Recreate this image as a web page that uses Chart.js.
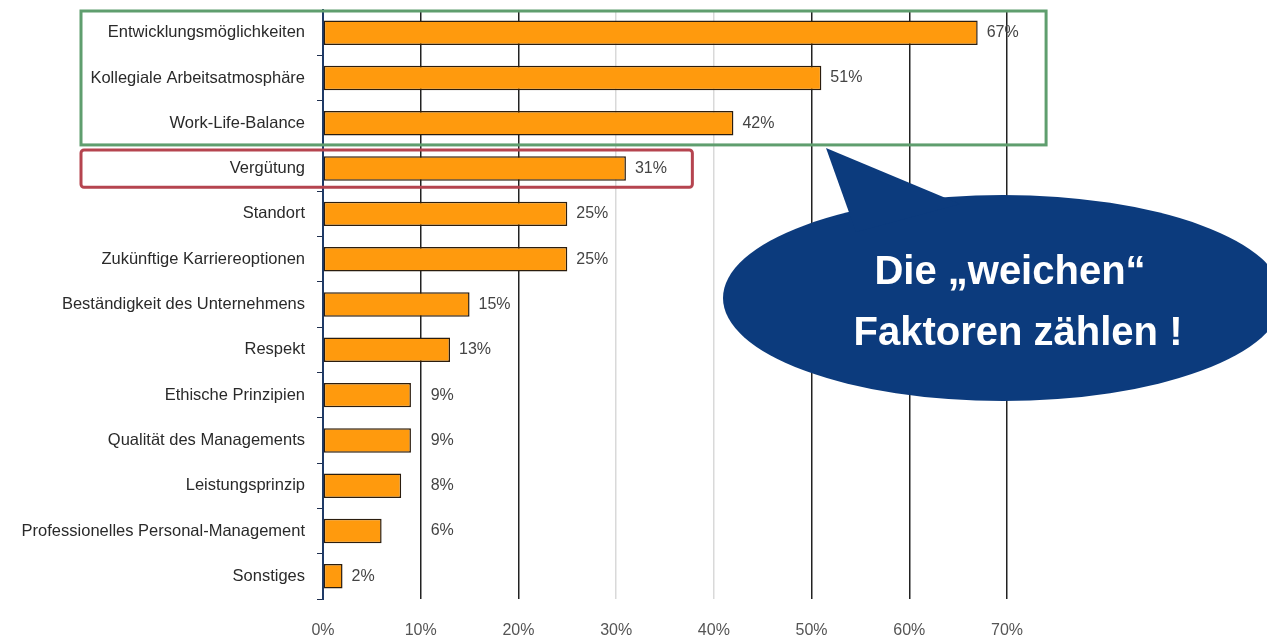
<!DOCTYPE html>
<html>
<head>
<meta charset="utf-8">
<script src="https://cdn.jsdelivr.net/npm/chart.js@4/dist/chart.umd.min.js"></script>
<style>
  html, body { margin: 0; padding: 0; background: #fff; }
  #wrap { width: 1267px; height: 639px; }
</style>
</head>
<body>
<div id="wrap"><canvas id="chart"></canvas></div>
<script>
/* ---------- data ---------- */
const categories = [
    "Entwicklungsmöglichkeiten",
    "Kollegiale Arbeitsatmosphäre",
    "Work-Life-Balance",
    "Vergütung",
    "Standort",
    "Zukünftige Karriereoptionen",
    "Beständigkeit des Unternehmens",
    "Respekt",
    "Ethische Prinzipien",
    "Qualität des Managements",
    "Leistungsprinzip",
    "Professionelles Personal-Management",
    "Sonstiges"
];
const shares = [67, 51, 42, 31, 25, 25, 15, 13, 9, 9, 8, 6, 2];
const xTicks = [0, 10, 20, 30, 40, 50, 60, 70];

const bubbleLines = ["Die \u201Eweichen\u201C", "Faktoren zählen !"];

/* ---------- plugins ---------- */
const valueLabels = {
    id: "valueLabels",
    afterDatasetsDraw(chart) {
        const { ctx, scales: { x } } = chart;
        const meta = chart.getDatasetMeta(0);
        ctx.save();
        ctx.font = "16px 'Liberation Sans', Arial, sans-serif";
        ctx.fillStyle = "#444";
        ctx.textBaseline = "middle";
        meta.data.forEach((bar, i) => {
            const v = shares[i];
            let px = bar.x + 9;
            // small values sit just right of the 10% line, like the original
            if (v >= 5 && v < 10) px = x.getPixelForValue(10) + 10;
            ctx.fillText(v + "%", px, bar.y);
        });
        ctx.restore();
    }
};

const highlightBoxes = {
    id: "highlightBoxes",
    afterDraw(chart) {
        const { ctx, scales: { x, y } } = chart;
        const half = (y.getPixelForValue(1) - y.getPixelForValue(0)) / 2;
        ctx.save();
        ctx.lineWidth = 3;

        // green frame: top three
        ctx.strokeStyle = "#5f9e6e";
        const gTop = y.getPixelForValue(0) - half + 1;
        const gBot = y.getPixelForValue(2) + half - 1;
        ctx.strokeRect(81, gTop, x.getPixelForValue(74) - 81, gBot - gTop);

        // red frame: Vergütung
        ctx.strokeStyle = "#b5444f";
        const rTop = y.getPixelForValue(3) - half + 4;
        const rBot = y.getPixelForValue(3) + half - 4;
        ctx.beginPath();
        ctx.roundRect(81, rTop, x.getPixelForValue(37.8) - 81, rBot - rTop, 3);
        ctx.stroke();

        // speech bubble
        ctx.fillStyle = "#0c3b7d";
        ctx.beginPath();
        ctx.ellipse(1003, 298, 280, 103, 0, 0, Math.PI * 2);
        ctx.fill();
        ctx.beginPath();
        ctx.moveTo(826, 148);
        ctx.lineTo(856, 232);
        ctx.lineTo(960, 204);
        ctx.closePath();
        ctx.fill();

        ctx.fillStyle = "#fff";
        ctx.font = "bold 40px 'Liberation Sans', Arial, sans-serif";
        ctx.textAlign = "center";
        ctx.textBaseline = "middle";
        ctx.fillText(bubbleLines[0], 1010, 273);
        ctx.fillText(bubbleLines[1], 1018, 334);
        ctx.restore();
    }
};

/* ---------- chart ---------- */
new Chart(document.getElementById("chart"), {
    type: "bar",
    data: {
        labels: categories,
        datasets: [{
            data: shares,
            backgroundColor: "#ff9a0d",
            borderColor: "#2b1d0e",
            borderWidth: 1.5,
            borderSkipped: false,
            barPercentage: 0.54,
            categoryPercentage: 1.0
        }]
    },
    options: {
        indexAxis: "y",
        responsive: true,
        maintainAspectRatio: false,
        animation: false,
        layout: { padding: { top: 10, right: 260, left: 0, bottom: 0 } },
        plugins: {
            legend: { display: false },
            tooltip: { enabled: false }
        },
        scales: {
            x: {
                min: 0,
                max: 70,
                afterBuildTicks: (s) => { s.ticks = xTicks.map(v => ({ value: v })); },
                afterFit: (s) => { s.height = 40; },
                grid: {
                    drawTicks: false,
                    lineWidth: 1.5,
                    color: (c) => (c.tick && (c.tick.value === 30 || c.tick.value === 40)) ? "#d9d9d9" : "#222"
                },
                border: { display: false },
                ticks: {
                    padding: 22,
                    color: "#555",
                    font: { family: "'Liberation Sans', Arial, sans-serif", size: 16 },
                    callback: (v) => v + "%"
                }
            },
            y: {
                afterFit: (s) => { s.width = 323; s.paddingTop = 0; s.paddingBottom = 0; },
                grid: {
                    drawOnChartArea: false,
                    drawTicks: true,
                    tickLength: 6,
                    color: "#1f2f4f"
                },
                border: { display: true, color: "#1f3a66", width: 2 },
                ticks: {
                    padding: 12,
                    color: "#2a2a2a",
                    font: { family: "'Liberation Sans', Arial, sans-serif", size: 16.5 }
                }
            }
        }
    },
    plugins: [valueLabels, highlightBoxes]
});
</script>
</body>
</html>
